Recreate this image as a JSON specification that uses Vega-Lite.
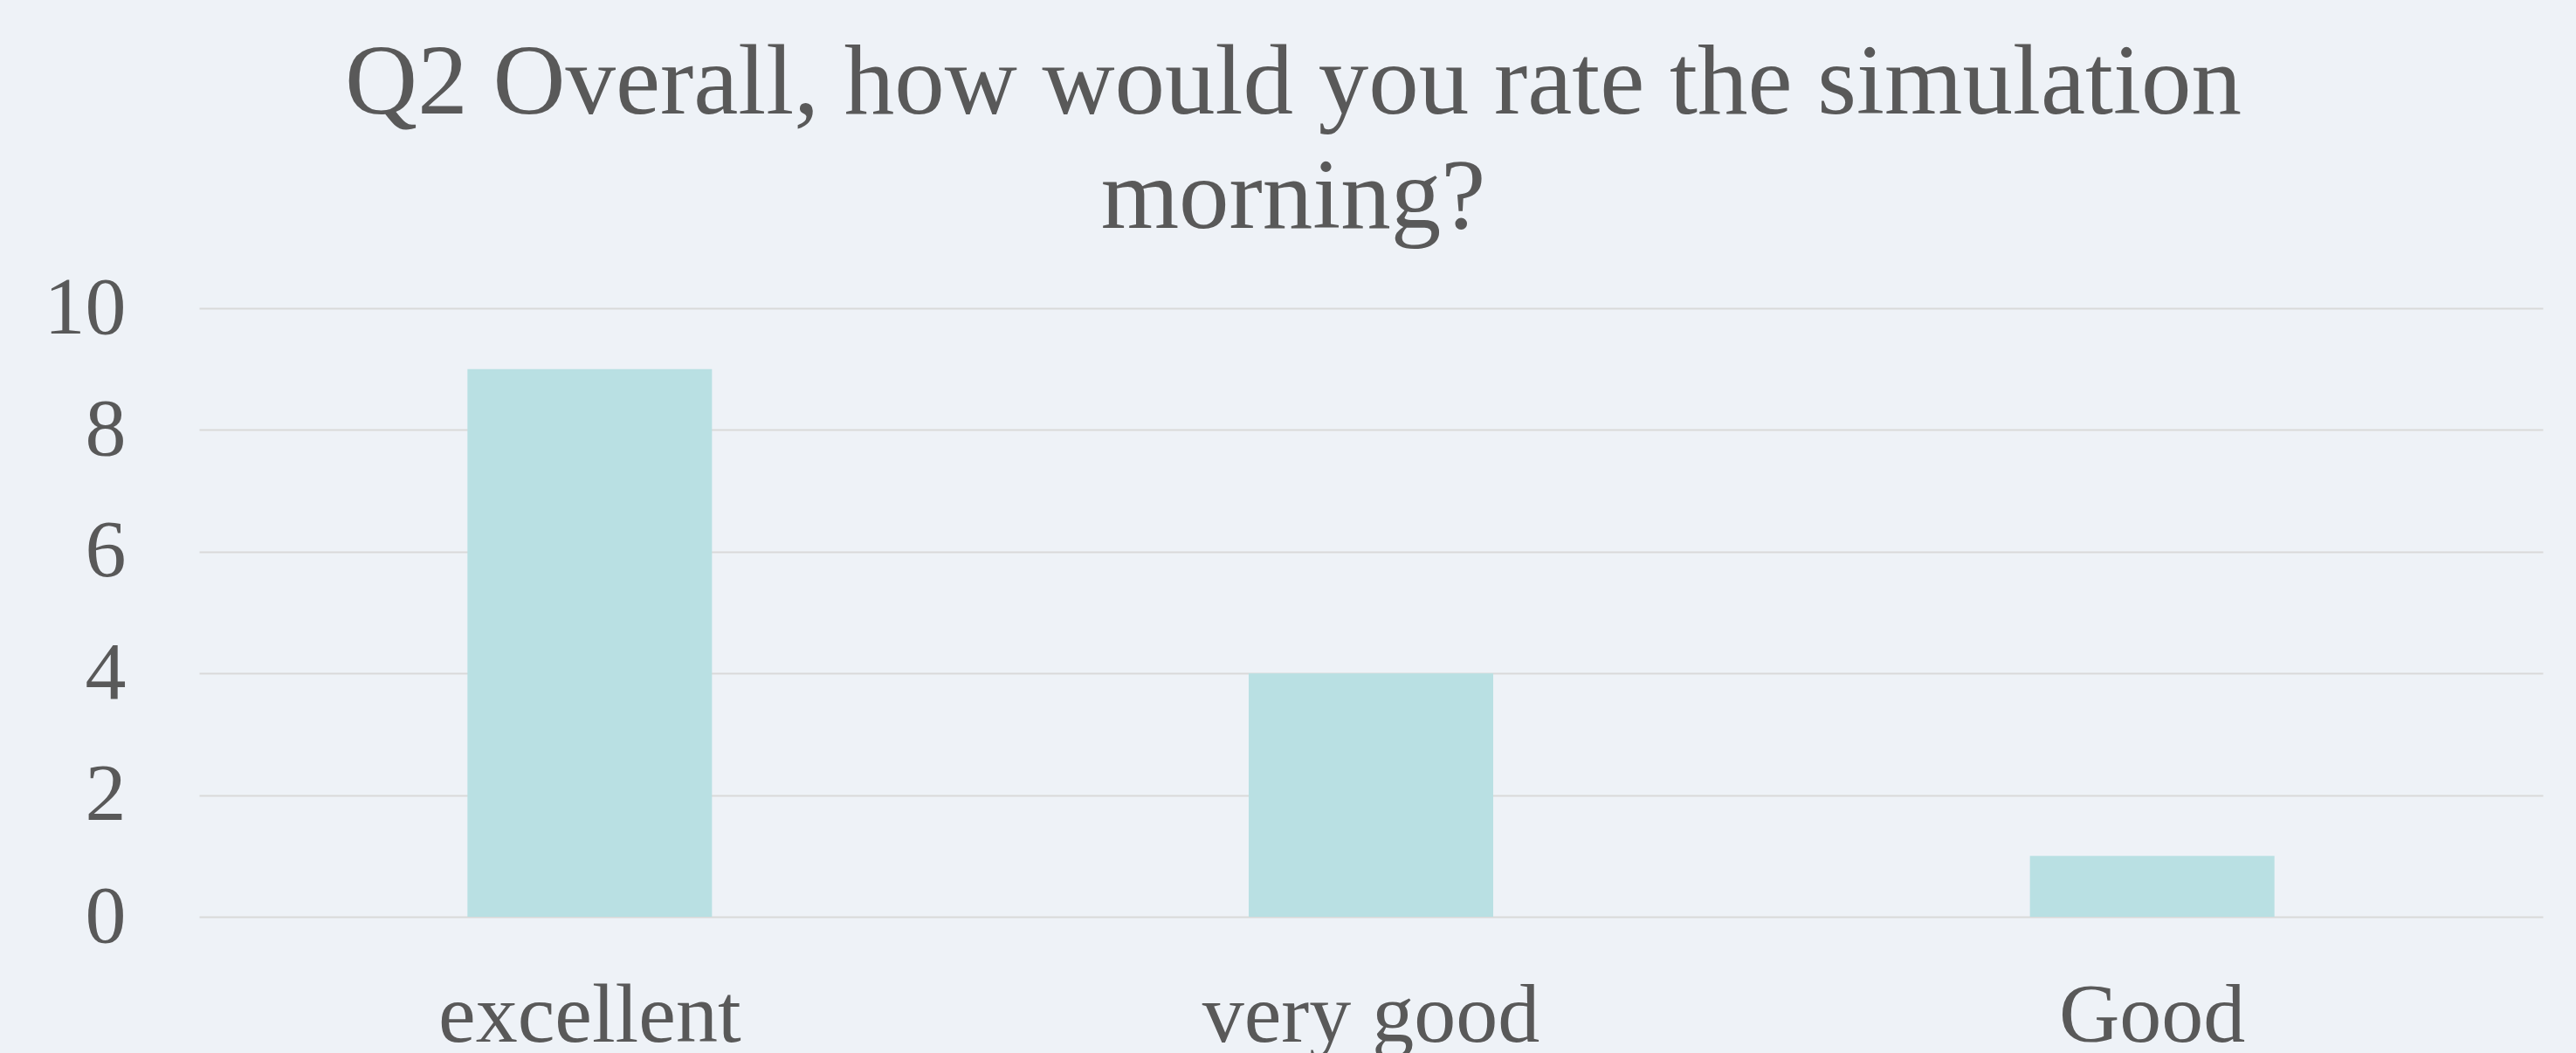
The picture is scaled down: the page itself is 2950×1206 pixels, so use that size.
{
  "$schema": "https://vega.github.io/schema/vega-lite/v6.json",
  "autosize": {"type": "none"},
  "padding": {"left": 228, "top": 353, "right": 38, "bottom": 156},
  "width": 2684,
  "height": 697,
  "background": "#EEF2F7",
  "config": {
    "view": {"stroke": null},
    "font": "Liberation Serif"
  },
  "title": {
    "text": ["Q2 Overall, how would you rate the simulation", "morning?"],
    "font": "Liberation Serif",
    "fontSize": 115,
    "fontWeight": "normal",
    "color": "#595959",
    "lineHeight": 131,
    "anchor": "middle",
    "frame": "bounds",
    "offset": 21
  },
  "data": {
    "values": [
      {"rating": "excellent", "count": 9},
      {"rating": "very good", "count": 4},
      {"rating": "Good", "count": 1}
    ]
  },
  "mark": {"type": "bar", "color": "#B9E0E3", "width": {"band": 0.313}},
  "encoding": {
    "x": {
      "field": "rating",
      "type": "nominal",
      "sort": ["excellent", "very good", "Good"],
      "scale": {"paddingInner": 0, "paddingOuter": 0},
      "axis": {
        "title": null,
        "labelAngle": 0,
        "labelFont": "Liberation Serif",
        "labelFontSize": 96,
        "labelColor": "#595959",
        "labelPadding": 66,
        "labelLimit": 0,
        "domain": false,
        "ticks": false
      }
    },
    "y": {
      "field": "count",
      "type": "quantitative",
      "scale": {"domain": [0, 10], "nice": false},
      "axis": {
        "title": null,
        "values": [0, 2, 4, 6, 8, 10],
        "labelFont": "Liberation Serif",
        "labelFontSize": 94,
        "labelColor": "#595959",
        "labelPadding": 84,
        "domain": false,
        "ticks": false,
        "grid": true,
        "gridColor": "#D9D9D9",
        "gridWidth": 2
      }
    }
  }
}
